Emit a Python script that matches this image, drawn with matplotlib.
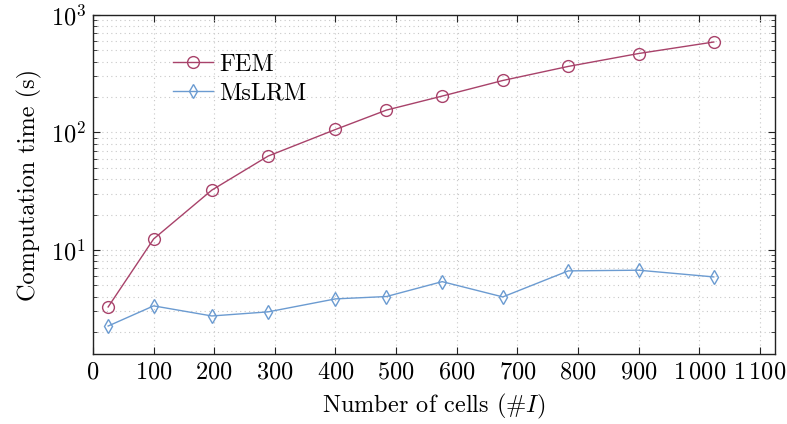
import numpy as np
import matplotlib
matplotlib.use("Agg")
import matplotlib.pyplot as plt
from matplotlib.ticker import FixedLocator, FuncFormatter, LogLocator, NullFormatter

plt.rcParams['font.family'] = 'serif'
plt.rcParams['font.serif'] = ['cmr10']
plt.rcParams['mathtext.fontset'] = 'cm'
plt.rcParams['axes.formatter.use_mathtext'] = True

# number of cells (#I)
cells = [25, 100, 196, 289, 400, 484, 576, 676, 784, 900, 1024]
# computation time in seconds
fem_time = [3.27, 12.4, 32.3, 63, 106, 155, 204, 277, 365, 470, 589]
mslrm_time = [2.25, 3.34, 2.74, 2.97, 3.83, 4.01, 5.37, 3.98, 6.63, 6.72, 5.89]
xtick_vals = list(range(0, 1101, 100))

fem_col = '#a8426a'
ms_col = '#6b9bd1'
fs = 17.5


def xfmt(v, p):
    s = '{:,}'.format(int(v)).replace(',', r'\,')
    return '$' + s + '$'


fig = plt.figure(figsize=(7.87, 4.24), dpi=100)
ax = fig.add_axes([93/787, 70/424, 682/787, 339/424])

ax.plot(cells, fem_time, color=fem_col, lw=1.0, marker='o', ms=8.5,
        mfc='none', mec=fem_col, mew=1.0, label='FEM')
ax.plot(cells, mslrm_time, color=ms_col, lw=1.0, marker='d', ms=7,
        mfc='none', mec=ms_col, mew=1.0, label='MsLRM')

ax.set_yscale('log')
ax.set_xlim(0, 1125)
ax.set_ylim(1.3, 1000)

ax.xaxis.set_major_locator(FixedLocator(xtick_vals))
ax.xaxis.set_major_formatter(FuncFormatter(xfmt))
ax.yaxis.set_major_locator(LogLocator(base=10, numticks=10))
ax.yaxis.set_minor_locator(LogLocator(base=10, subs=np.arange(2, 10), numticks=10))
ax.yaxis.set_minor_formatter(NullFormatter())

ax.tick_params(which='both', direction='in', top=True, right=True,
               labelsize=fs, colors='#222222', labelcolor='black')
ax.tick_params(which='major', length=5, width=0.8, pad=5)
ax.tick_params(which='minor', length=3, width=0.6)

ax.grid(True, which='major', linestyle=(0, (1, 3)), color='#c8c8c8', lw=0.8)
ax.grid(True, which='minor', axis='y', linestyle=(0, (1, 3)), color='#c8c8c8', lw=0.8)
ax.set_axisbelow(True)

for s in ax.spines.values():
    s.set_linewidth(1.0)
    s.set_color('#222222')

ax.set_xlabel(r'Number of cells (#$I$)', fontsize=fs, labelpad=6)
ax.set_ylabel('Computation time (s)', fontsize=fs, labelpad=6)

ax.legend(loc='upper left', bbox_to_anchor=(0.085, 0.95), frameon=False,
          fontsize=fs, handlelength=1.65, handletextpad=0.25, labelspacing=0.25)

fig.savefig('out.png', dpi=100)
